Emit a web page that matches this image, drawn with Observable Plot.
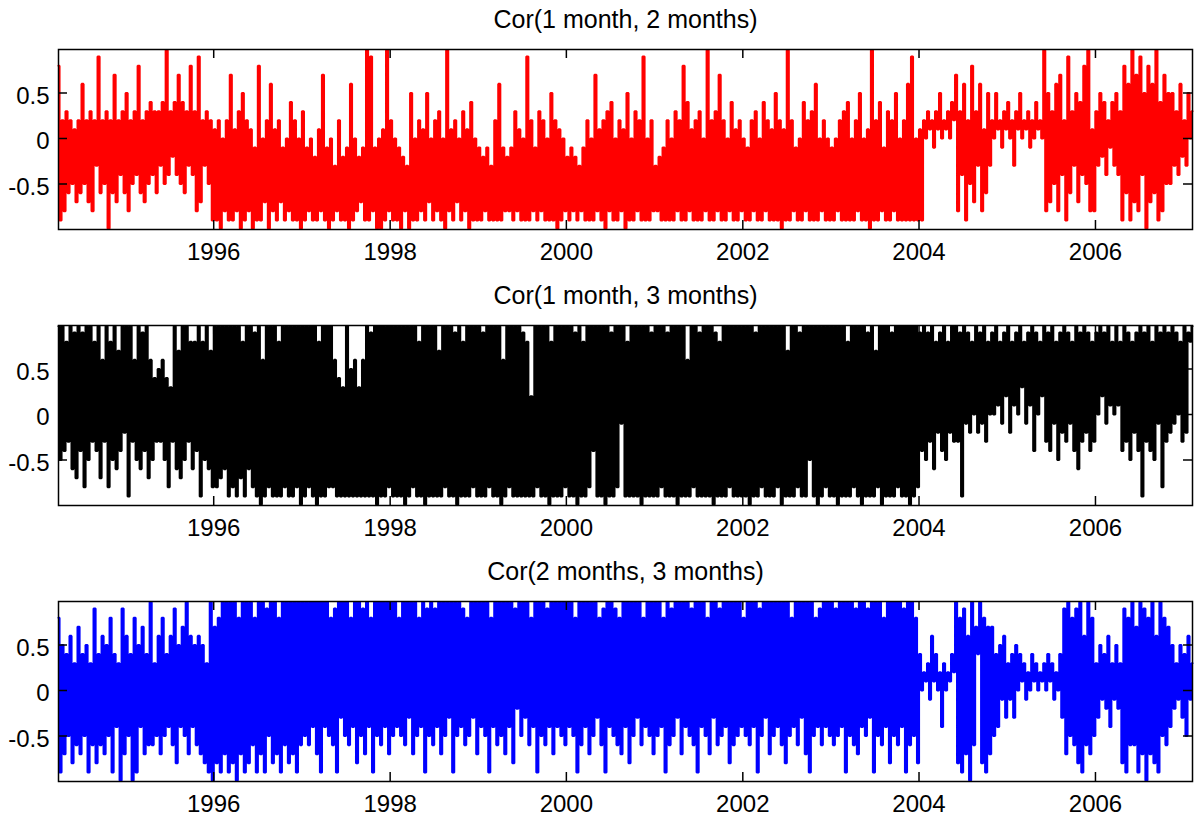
<!DOCTYPE html>
<html>
<head>
<meta charset="utf-8">
<script src="https://cdn.jsdelivr.net/npm/d3@7"></script>
<script src="https://cdn.jsdelivr.net/npm/@observablehq/plot@0.6"></script>
<style>
  html, body { margin: 0; padding: 0; background: #fff; }
  #chart svg { display: block; }
</style>
</head>
<body>
<div id="chart"></div>
<script>
// ---- Data ----
// Each series is a run of readings, one letter per reading on the level scale below.
const levelKeys = "abcdefghijklmnopqrstu";
const levelValues = [-0.99, -0.9, -0.8, -0.7, -0.6, -0.5, -0.4, -0.3, -0.2, -0.1, 0,
                      0.1, 0.2, 0.3, 0.4, 0.5, 0.6, 0.7, 0.8, 0.9, 0.97];

const panelTitles = ["Cor(1 month, 2 months)", "Cor(1 month, 3 months)", "Cor(2 months, 3 months)"];
const panelColors = ["#ff0000", "#000000", "#0000ff"];

const seriesStart = "1994-03-29";
const seriesEnd = "2007-02-07";

const cor12 =
  "sbmcnemfld" + "meqfmdncmh" + "temfnamerd" + "mgnepcmfng" + "semdnfogne" + "nhofugniog" + "rfoenhsgnc" + "tdmhnfmb" +
  "lbmakcmbrb" + "lcnapbmcla" + "jbsbkdmaqc" + "lbmdjbkcob" + "mbka" +
  "nbjckbiblc" + "rbjakbhcmb" + "ibjaqbkcid" + "jbubtcjaka" + "lbuc" +
  "mbkbjaicha" + "pbkbmclbpd" + "kbmcnbkauc" + "lbmdkbncla" + "obkb" +
  "jbicjbhbmb" + "qbjcicjbnc" + "lbkbtbmcjb" + "ncmbkbpbma" + "lbkc" +
  "ibjcibhcjb" + "mbkbrclbma" + "ncobkbmcla" + "pbkbncmbtb" + "kbmc" +
  "hcibjbmbkb" + "ncmbsboclb" + "mbnbkcubmb" + "ncrbmbkcob" + "lbmc" +
  "kbjbmcnbkb" + "ocmblbpbma" + "lbubmcjbkb" + "ocmbnbqbkc" + "mbkb" +
  "jbkcmbnbob" + "kbmcpbkbla" + "ubmbocjbnb" + "mcpbkbmbqb" + "tbkb" +
  "lbmknlmjnl" + "pkmlnkom" + "rcngqbmfsdnhqcleph" + "mkplmjnlokmhnlpkmlnjmkolmk" +
  "ucpdnfqcrgmbtenhpdogsfuclc" + "nhpiogmjohpgn" + "bseqbudrctgpasdqeubocrfp" + "fphngqimhpkn";

const cor13 =
  "ufugshuetd" + "ugtcufuhsg" + "udqhucsfue" + "rguiubuhqf" + "uetgudqfoh" + "phqfocnhue" + "rdufuhsesg" + "ubsfuerc" +
  "ucudueubuc" + "ubudsbueuc" + "tbuaqbucub" + "ubsbucubub" + "ucua" +
  "ubucubuasb" + "ubucucqbob" + "nbubpbqbnb" + "qbubtbuaub" + "ubuc" +
  "ubububuaub" + "ucubsbuaub" + "ububrbucub" + "ubtaubsbub" + "ucub" +
  "ubtbucubub" + "uaqbucubub" + "ubtbsbmbuc" + "ububuasbub" + "ubuc" +
  "ububtaubsb" + "ucugububua" + "ubtbucujub" + "sbububuaub" + "ubtb" +
  "ubucubtbub" + "uaububqbuc" + "ubtbububua" + "tbsbubucub" + "ubub" +
  "ubuaubtbuc" + "ubububucua" + "ubrbubuctb" + "ubufubuaub" + "ucub" +
  "ubuaububsb" + "ucubuaubtb" + "ubrcuaubub" + "tbucububua" + "ubuc" +
  "tgufthuesi" + "tgufsiuh" + "uhtbujtisk" + "uitjuhsk" + "tkulsjtmui" + "sltkunsjtl" + "ugtksm" +
  "uhtgujsfti" + "uhtjsgueth" + "uitgsh" + "tkumtjulskuls" + "guhtfsitgubthugsfujtcuht" + "iujtkshuitsu";

const cor23 =
  "sbpdofqcne" + "rdofpbnetc" + "oeqdpfsbog" + "natdqfoasb" + "pgrdoeuenf" + "qdsfogqetc" + "pgrfudqgpe" + "qdpcnbua" +
  "rcsbudubuc" + "uasdubucue" + "sbudubtfuc" + "udsbueucud" + "ubue" +
  "ufueugudub" + "ugufsetbuh" + "ufuesgucuf" + "tdugsbufue" + "ugud" +
  "ufugsfueuh" + "udufsgubtf" + "uetgudufuh" + "ubufugtesf" + "uhud" +
  "ugufubsgue" + "ufudugucti" + "ufuhuesgub" + "ufuetgudug" + "ufue" +
  "ugufsbueug" + "udufuhsetb" + "uguftesdug" + "ucufuhuesg" + "ufud" +
  "ufugsbuetf" + "uhudugufte" + "ubugufsduh" + "uetfugucue" + "ufug" +
  "sfueugubtf" + "uhudufugue" + "ucufsgueuh" + "udubufsgte" + "uguf" +
  "uetfugubuf" + "uetdugufth" + "ubufuesguc" + "ufueugtbue" + "ufsc" +
  "okmlnjqlokmgnkmlom" + "ucsbtdqaueroucsbrd" + "rfogpjqhnjohpkolnjmkolnkml" +
  "nkolnjmkohtdufsetcubqeudsf" + "nhpjoiqgnjpin" + "ctbseuerbudtasducqbufser" + "gpinjphofqjn";

const xTickYears = [1996, 1998, 2000, 2002, 2004, 2006];
const yTicks = [-0.5, 0, 0.5];
const yDomain = [-1.0, 0.978];

// ---- Build tables ----
const t0 = new Date(seriesStart + "T00:00:00Z");
const t1 = new Date(seriesEnd + "T00:00:00Z");
function toTable(codes) {
  const n = codes.length;
  return Array.from(codes, (c, i) => ({
    date: new Date(+t0 + (i * (t1 - t0)) / (n - 1)),
    value: levelValues[levelKeys.indexOf(c)]
  }));
}
const allSeries = [cor12, cor13, cor23].map(toTable);
const xTicks = xTickYears.map(y => new Date(Date.UTC(y, 0, 1)));

const FONT = "'Liberation Sans', Arial, Helvetica, sans-serif";
const heights = [276, 276, 264];
const bottoms = [47, 47, 35];
const frameW = 1194 - 58 - 2;
const frameH = 180;

const chart = document.getElementById("chart");
allSeries.forEach((data, k) => {
  const svg = Plot.plot({
    width: 1194,
    height: heights[k],
    marginLeft: 58,
    marginRight: 2,
    marginTop: 49,
    marginBottom: bottoms[k],
    style: { fontFamily: FONT, background: "#fff", color: "#000" },
    x: { type: "utc", domain: [t0, t1] },
    y: { domain: yDomain },
    marks: [
      Plot.lineY(data, { x: "date", y: "value", stroke: panelColors[k], strokeWidth: 2.1, curve: "step", strokeLinejoin: "miter" }),
      // inward tick marks on all four sides
      Plot.tickX(xTicks, { x: d => d, insetTop: frameH - 9, stroke: "#000", strokeWidth: 1.5 }),
      Plot.tickX(xTicks, { x: d => d, insetBottom: frameH - 9, stroke: "#000", strokeWidth: 1.5 }),
      Plot.tickY(yTicks, { y: d => d, insetRight: frameW - 9, stroke: "#000", strokeWidth: 1.5 }),
      Plot.tickY(yTicks, { y: d => d, insetLeft: frameW - 9, stroke: "#000", strokeWidth: 1.5 }),
      Plot.frame({ stroke: "#000", strokeWidth: 1.5 }),
      Plot.axisX({ ticks: xTicks, tickFormat: d3.utcFormat("%Y"), tickSize: 0, tickPadding: 13, fontSize: 24, fill: "#000", label: null }),
      Plot.axisY({ ticks: yTicks, tickFormat: d => String(d), tickSize: 0, tickPadding: 9, fontSize: 24, dy: 3, fill: "#000", label: null }),
      Plot.text([panelTitles[k]], { frameAnchor: "top", dy: -30, lineAnchor: "middle", fontSize: 25, fill: "#000", text: d => d, ariaLabel: "panel-title" })
    ]
  });
  d3.select(svg).selectAll("g[aria-label='panel-title'] text").style("letter-spacing", "0.3px");
  chart.appendChild(svg);
});
</script>
</body>
</html>
